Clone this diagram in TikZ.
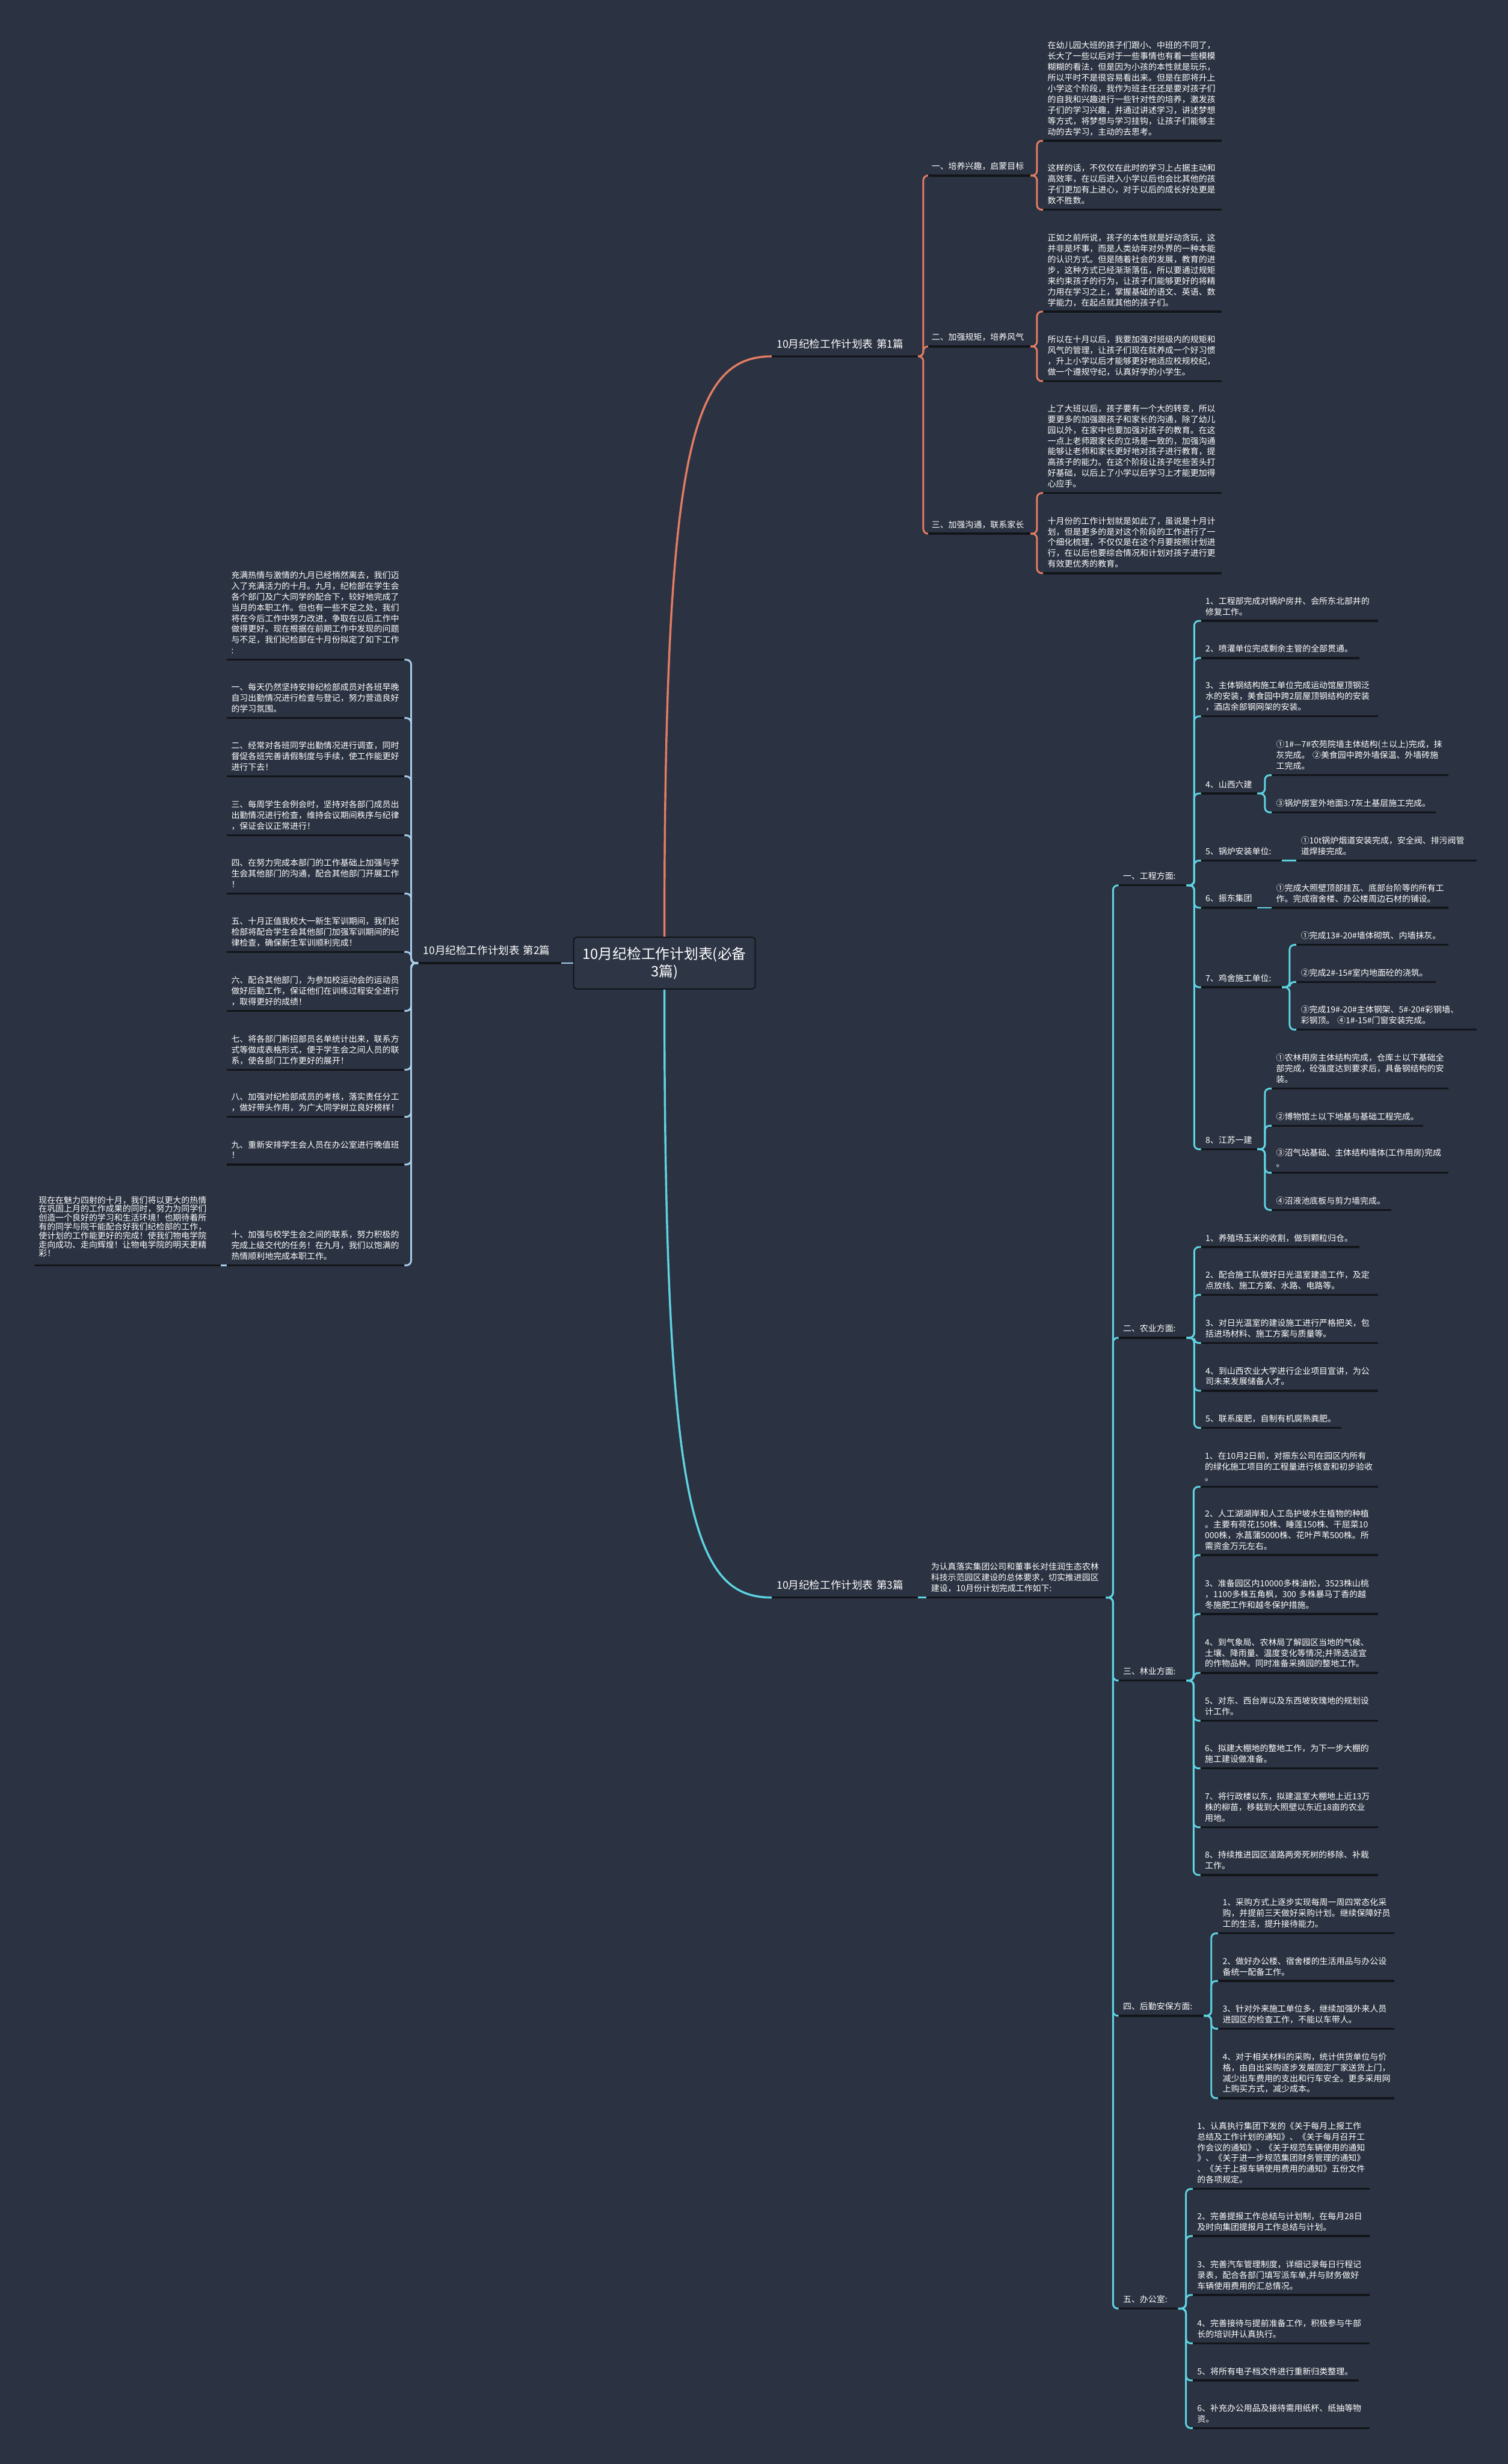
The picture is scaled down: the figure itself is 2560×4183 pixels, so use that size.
\documentclass[tikz,border=0pt]{standalone}
\usepackage{fontspec}
\setmainfont{Noto Sans CJK SC}
\definecolor{bgc}{HTML}{2B3241}
\definecolor{ulc}{HTML}{121519}
\definecolor{orc}{HTML}{E27D63}
\definecolor{blc}{HTML}{A9CDEA}
\definecolor{cyc}{HTML}{5ED3E2}
\definecolor{boxc}{HTML}{2E3646}
\newcommand\bodyf{\fontsize{4.05pt}{5.2pt}\selectfont}
\newcommand\farf{\fontsize{4.05pt}{4.3pt}\selectfont}
\newcommand\lblf{\fontsize{5.1pt}{6.5pt}\selectfont}
\newcommand\rootf{\fontsize{6.9pt}{8.5pt}\selectfont}
\tikzset{
  uline/.style={draw=ulc, line width=0.035cm},
  underlined/.style={append after command={(\tikzlastnode.south west) edge[uline] (\tikzlastnode.south east)}},
  leafbox/.style={anchor=south west, inner xsep=0.07cm, inner ysep=0.04cm, align=left, text=white, font=\bodyf, underlined},
  farbox/.style={leafbox, font=\farf, inner ysep=0.095cm},
  lblbox/.style={leafbox, font=\lblf, inner xsep=0.08cm, inner ysep=0.071cm},
  rootbox/.style={draw=ulc, fill=boxc, rounded corners=0.06cm, line width=0.02cm, minimum width=3.08cm, minimum height=0.88cm, align=center, text=white, font=\rootf, inner sep=0pt},
  conn/.style={line width=0.03cm, rounded corners=0.08cm},
  c1/.style={conn, draw=orc},
  c2/.style={conn, draw=blc},
  c3/.style={conn, draw=cyc},
}
\newcommand\mleaf[6][leafbox]{\pgfmathsetmacro\mylw{(#4-#3-14)/100}\node[#1, text width=\mylw cm] (#2) at (#3,#5) {#6\strut};}
\newcommand\brR[4]{\draw[#1] (#2.south east) -- ++(#3,0) |- (#4.south west);}
\newcommand\brL[4]{\draw[#1] (#2.south west) -- ++(-#3,0) |- (#4.south east);}
\begin{document}
\begin{tikzpicture}[x=0.01cm, y=-0.01cm]
\fill[bgc] (0,0) rectangle (2560,4183);
\useasboundingbox (0,0) rectangle (2560,4183);

% root
\node[rootbox] (root) at (1128,1635) {10月纪检工作计划表(必备\\3篇)};

% ===== Branch 1 =====
\mleaf[lblbox]{b1}{1310}{1555}{605}{10月纪检工作计划表 第1篇}
\mleaf{s11}{1574}{1748}{298}{一、培养兴趣，启蒙目标}
\mleaf{s12}{1574}{1748}{588}{二、加强规矩，培养风气}
\mleaf{s13}{1574}{1748}{906}{三、加强沟通，联系家长}
\mleaf{p1}{1771}{2073}{239}{在幼儿园大班的孩子们跟小、中班的不同了，\\长大了一些以后对于一些事情也有着一些模模\\糊糊的看法，但是因为小孩的本性就是玩乐，\\所以平时不是很容易看出来。但是在即将升上\\小学这个阶段，我作为班主任还是要对孩子们\\的自我和兴趣进行一些针对性的培养，激发孩\\子们的学习兴趣，并通过讲述学习，讲述梦想\\等方式，将梦想与学习挂钩，让孩子们能够主\\动的去学习，主动的去思考。}
\mleaf{p2}{1771}{2073}{356}{这样的话，不仅仅在此时的学习上占据主动和\\高效率，在以后进入小学以后也会比其他的孩\\子们更加有上进心，对于以后的成长好处更是\\数不胜数。}
\mleaf{p3}{1771}{2073}{529}{正如之前所说，孩子的本性就是好动贪玩，这\\并非是坏事，而是人类幼年对外界的一种本能\\的认识方式。但是随着社会的发展，教育的进\\步，这种方式已经渐渐落伍，所以要通过规矩\\来约束孩子的行为，让孩子们能够更好的将精\\力用在学习之上，掌握基础的语文、英语、数\\学能力，在起点就其他的孩子们。}
\mleaf{p4}{1771}{2073}{647}{所以在十月以后，我要加强对班级内的规矩和\\风气的管理，让孩子们现在就养成一个好习惯\\，升上小学以后才能够更好地适应校规校纪，\\做一个遵规守纪，认真好学的小学生。}
\mleaf{p5}{1771}{2073}{837}{上了大班以后，孩子要有一个大的转变，所以\\要更多的加强跟孩子和家长的沟通，除了幼儿\\园以外，在家中也要加强对孩子的教育。在这\\一点上老师跟家长的立场是一致的，加强沟通\\能够让老师和家长更好地对孩子进行教育，提\\高孩子的能力。在这个阶段让孩子吃些苦头打\\好基础，以后上了小学以后学习上才能更加得\\心应手。}
\mleaf{p6}{1771}{2073}{973}{十月份的工作计划就是如此了，虽说是十月计\\划，但是更多的是对这个阶段的工作进行了一\\个细化梳理，不仅仅是在这个月要按照计划进\\行，在以后也要综合情况和计划对孩子进行更\\有效更优秀的教育。}
\draw[c1, line width=0.035cm] (root.north) .. controls (1128,760) and (1175,605) .. (b1.south west);
\brR{c1}{b1}{9}{s11}
\brR{c1}{b1}{9}{s12}
\brR{c1}{b1}{9}{s13}
\brR{c1}{s11}{11}{p1}
\brR{c1}{s11}{11}{p2}
\brR{c1}{s12}{11}{p3}
\brR{c1}{s12}{11}{p4}
\brR{c1}{s13}{11}{p5}
\brR{c1}{s13}{11}{p6}

% ===== Branch 2 =====
\mleaf[lblbox]{b2}{710}{949}{1635}{10月纪检工作计划表 第2篇}
\mleaf{q0}{385}{685}{1120}{充满热情与激情的九月已经悄然离去，我们迈\\入了充满活力的十月。九月，纪检部在学生会\\各个部门及广大同学的配合下，较好地完成了\\当月的本职工作。但也有一些不足之处，我们\\将在今后工作中努力改进，争取在以后工作中\\做得更好。现在根据在前期工作中发现的问题\\与不足，我们纪检部在十月份拟定了如下工作\\:}
\mleaf{q1}{385}{685}{1219}{一、每天仍然坚持安排纪检部成员对各班早晚\\自习出勤情况进行检查与登记，努力营造良好\\的学习氛围。}
\mleaf{q2}{385}{685}{1318}{二、经常对各班同学出勤情况进行调查，同时\\督促各班完善请假制度与手续，使工作能更好\\进行下去！}
\mleaf{q3}{385}{685}{1418}{三、每周学生会例会时，坚持对各部门成员出\\出勤情况进行检查，维持会议期间秩序与纪律\\，保证会议正常进行！}
\mleaf{q4}{385}{685}{1517}{四、在努力完成本部门的工作基础上加强与学\\生会其他部门的沟通，配合其他部门开展工作\\！}
\mleaf{q5}{385}{685}{1616}{五、十月正值我校大一新生军训期间，我们纪\\检部将配合学生会其他部门加强军训期间的纪\\律检查，确保新生军训顺利完成！}
\mleaf{q6}{385}{685}{1716}{六、配合其他部门，为参加校运动会的运动员\\做好后勤工作，保证他们在训练过程安全进行\\，取得更好的成绩！}
\mleaf{q7}{385}{685}{1816}{七、将各部门新招部员名单统计出来，联系方\\式等做成表格形式，便于学生会之间人员的联\\系，使各部门工作更好的展开！}
\mleaf{q8}{385}{685}{1896}{八、加强对纪检部成员的考核，落实责任分工\\，做好带头作用，为广大同学树立良好榜样！}
\mleaf{q9}{385}{685}{1977}{九、重新安排学生会人员在办公室进行晚值班\\！}
\mleaf{q10}{385}{685}{2148}{十、加强与校学生会之间的联系，努力积极的\\完成上级交代的任务！在九月，我们以饱满的\\热情顺利地完成本职工作。}
\mleaf[farbox]{q11}{58}{373}{2148}{现在在魅力四射的十月，我们将以更大的热情\\在巩固上月的工作成果的同时，努力为同学们\\创造一个良好的学习和生活环境！也期待着所\\有的同学与院干能配合好我们纪检部的工作，\\使计划的工作能更好的完成！使我们物电学院\\走向成功、走向辉煌！让物电学院的明天更精\\彩！}
\draw[c2] (root.west) -- (b2.south east);
\foreach \k in {q0,q1,q2,q3,q4,q5,q6,q7,q8,q9,q10}{\brL{c2}{b2}{12}{\k}}
\draw[c2] (q10.south west) -- (q11.south east);

% ===== Branch 3 =====
\mleaf[lblbox]{b3}{1310}{1555}{2712}{10月纪检工作计划表 第3篇}
\mleaf{r0}{1573}{1876}{2712}{为认真落实集团公司和董事长对佳润生态农林\\科技示范园区建设的总体要求，切实推进园区\\建设，10月份计划完成工作如下:}
\draw[c3, line width=0.035cm] (root.south) .. controls (1128,2560) and (1175,2712) .. (b3.south west);
\draw[c3] (b3.south east) -- (r0.south west);
\mleaf{g1}{1899}{2013}{1503}{一、工程方面:}
\mleaf{g2}{1899}{2013}{2271}{二、农业方面:}
\mleaf{g3}{1899}{2013}{2853}{三、林业方面:}
\mleaf{g4}{1899}{2042}{3422}{四、后勤安保方面:}
\mleaf{g5}{1899}{1999}{3919}{五、办公室:}
\foreach \k in {g1,g2,g3,g4,g5}{\brR{c3}{r0}{12}{\k}}

% engineering
\mleaf{e1}{2039}{2338}{1054}{1、工程部完成对锅炉房井、会所东北部井的\\修复工作。}
\mleaf{e2}{2039}{2306}{1117}{2、喷灌单位完成剩余主管的全部贯通。}
\mleaf{e3}{2039}{2338}{1216}{3、主体钢结构施工单位完成运动馆屋顶钢泛\\水的安装，美食园中跨2层屋顶钢结构的安装\\，酒店余部钢网架的安装。}
\mleaf{e4}{2039}{2133}{1347}{4、山西六建}
\mleaf{e5}{2039}{2175}{1461}{5、锅炉安装单位:}
\mleaf{e6}{2039}{2133}{1541}{6、振东集团}
\mleaf{e7}{2039}{2175}{1676}{7、鸡舍施工单位:}
\mleaf{e8}{2039}{2133}{1951}{8、江苏一建}
\foreach \k in {e1,e2,e3,e4,e5,e6,e7,e8}{\brR{c3}{g1}{13}{\k}}
\mleaf{e4a}{2159}{2458}{1316}{①1\#—7\#农苑院墙主体结构(±以上)完成，抹\\灰完成。~②美食园中跨外墙保温、外墙砖施\\工完成。}
\mleaf{e4b}{2159}{2436}{1379}{③锅炉房室外地面3:7灰土基层施工完成。}
\brR{c3}{e4}{13}{e4a}
\brR{c3}{e4}{13}{e4b}
\mleaf{e5a}{2201}{2506}{1461}{①10t锅炉烟道安装完成，安全阀、排污阀管\\道焊接完成。}
\draw[c3] (e5.south east) -- (e5a.south west);
\mleaf{e6a}{2159}{2458}{1541}{①完成大照壁顶部挂瓦、底部台阶等的所有工\\作。完成宿舍楼、办公楼周边石材的铺设。}
\draw[c3] (e6.south east) -- (e6a.south west);
\mleaf{e7a}{2201}{2458}{1604}{①完成13\#-20\#墙体砌筑、内墙抹灰。}
\mleaf{e7b}{2201}{2436}{1667}{②完成2\#-15\#室内地面砼的浇筑。}
\mleaf{e7c}{2201}{2506}{1748}{③完成19\#-20\#主体钢架、5\#-20\#彩钢墙、\\彩钢顶。~④1\#-15\#门窗安装完成。}
\foreach \k in {e7a,e7b,e7c}{\brR{c3}{e7}{13}{\k}}
\mleaf{e8a}{2159}{2458}{1848}{①农林用房主体结构完成，仓库±以下基础全\\部完成，砼强度达到要求后，具备钢结构的安\\装。}
\mleaf{e8b}{2159}{2415}{1911}{②博物馆±以下地基与基础工程完成。}
\mleaf{e8c}{2159}{2458}{1991}{③沼气站基础、主体结构墙体(工作用房)完成\\。}
\mleaf{e8d}{2159}{2361}{2054}{④沼液池底板与剪力墙完成。}
\foreach \k in {e8a,e8b,e8c,e8d}{\brR{c3}{e8}{13}{\k}}

% agriculture
\mleaf{a1}{2039}{2306}{2117}{1、养殖场玉米的收割，做到颗粒归仓。}
\mleaf{a2}{2039}{2338}{2198}{2、配合施工队做好日光温室建造工作，及定\\点放线、施工方案、水路、电路等。}
\mleaf{a3}{2039}{2338}{2280}{3、对日光温室的建设施工进行严格把关，包\\括进场材料、施工方案与质量等。}
\mleaf{a4}{2039}{2338}{2361}{4、到山西农业大学进行企业项目宣讲，为公\\司未来发展储备人才。}
\mleaf{a5}{2039}{2276}{2424}{5、联系废肥，自制有机腐熟粪肥。}
\foreach \k in {a1,a2,a3,a4,a5}{\brR{c3}{g2}{13}{\k}}

% forestry
\mleaf{f1}{2038}{2338}{2524}{1、在10月2日前，对振东公司在园区内所有\\的绿化施工项目的工程量进行核查和初步验收\\。}
\mleaf{f2}{2038}{2338}{2640}{2、人工湖湖岸和人工岛护坡水生植物的种植\\。主要有荷花150株、睡莲150株、干屈菜10\\000株，水菖蒲5000株、花叶芦苇500株。所\\需资金万元左右。}
\mleaf{f3}{2038}{2338}{2740}{3、准备园区内10000多株油松，3523株山桃\\，1100多株五角枫，300~多株暴马丁香的越\\冬施肥工作和越冬保护措施。}
\mleaf{f4}{2038}{2338}{2840}{4、到气象局、农林局了解园区当地的气候、\\土壤、降雨量、温度变化等情况;并筛选适宜\\的作物品种。同时准备采摘园的整地工作。}
\mleaf{f5}{2038}{2338}{2921}{5、对东、西台岸以及东西坡玫瑰地的规划设\\计工作。}
\mleaf{f6}{2038}{2338}{3002}{6、拟建大棚地的整地工作，为下一步大棚的\\施工建设做准备。}
\mleaf{f7}{2038}{2338}{3102}{7、将行政楼以东，拟建温室大棚地上近13万\\株的柳苗，移栽到大照壁以东近18亩的农业\\用地。}
\mleaf{f8}{2038}{2338}{3183}{8、持续推进园区道路两旁死树的移除、补栽\\工作。}
\foreach \k in {f1,f2,f3,f4,f5,f6,f7,f8}{\brR{c3}{g3}{12}{\k}}

% logistics
\mleaf{l1}{2068}{2366}{3282}{1、采购方式上逐步实现每周一周四常态化采\\购，并提前三天做好采购计划。继续保障好员\\工的生活，提升接待能力。}
\mleaf{l2}{2068}{2366}{3363}{2、做好办公楼、宿舍楼的生活用品与办公设\\备统一配备工作。}
\mleaf{l3}{2068}{2366}{3444}{3、针对外来施工单位多，继续加强外来人员\\进园区的检查工作，不能以车带人。}
\mleaf{l4}{2068}{2366}{3562}{4、对于相关材料的采购，统计供货单位与价\\格，由自出采购逐步发展固定厂家送货上门，\\减少出车费用的支出和行车安全。更多采用网\\上购买方式，减少成本。}
\foreach \k in {l1,l2,l3,l4}{\brR{c3}{g4}{13}{\k}}

% office
\mleaf{o1}{2025}{2324}{3716}{1、认真执行集团下发的《关于每月上报工作\\总结及工作计划的通知》、《关于每月召开工\\作会议的通知》、《关于规范车辆使用的通知\\》、《关于进一步规范集团财务管理的通知》\\、《关于上报车辆使用费用的通知》五份文件\\的各项规定。}
\mleaf{o2}{2025}{2324}{3796}{2、完善提报工作总结与计划制，在每月28日\\及时向集团提报月工作总结与计划。}
\mleaf{o3}{2025}{2324}{3896}{3、完善汽车管理制度，详细记录每日行程记\\录表，配合各部门填写派车单,并与财务做好\\车辆使用费用的汇总情况。}
\mleaf{o4}{2025}{2324}{3978}{4、完善接待与提前准备工作，积极参与牛部\\长的培训并认真执行。}
\mleaf{o5}{2025}{2305}{4041}{5、将所有电子档文件进行重新归类整理。}
\mleaf{o6}{2025}{2324}{4122}{6、补充办公用品及接待需用纸杯、纸抽等物\\资。}
\foreach \k in {o1,o2,o3,o4,o5,o6}{\brR{c3}{g5}{13}{\k}}
\end{tikzpicture}
\end{document}
